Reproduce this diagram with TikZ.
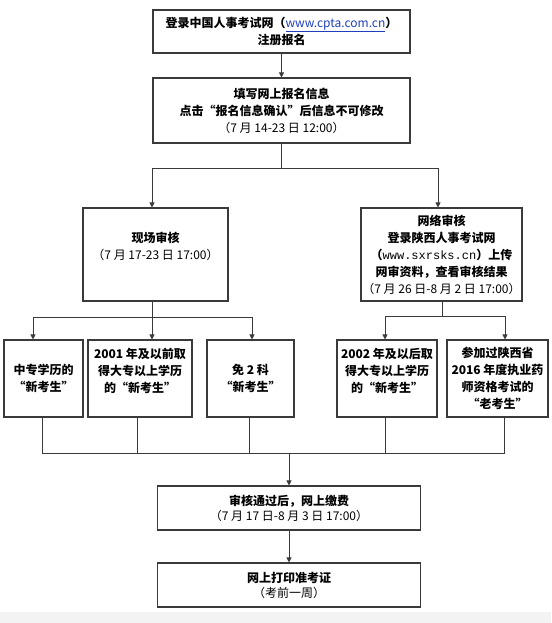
\documentclass[tikz,border=0pt]{standalone}
\usepackage{fontspec}
\setmainfont{Noto Sans CJK SC}
\setmonofont{Liberation Mono}
\usetikzlibrary{arrows.meta}
\definecolor{lineC}{HTML}{3A3A3A}
\definecolor{urlC}{HTML}{1F3FBF}
\definecolor{bandC}{HTML}{F3F3F3}
\tikzset{
  box/.style={draw=lineC, line width=1.1pt, rectangle, inner sep=0pt, align=center,
    font=\fontsize{12}{17}\selectfont\bfseries},
  boxtight/.style={box, font=\fontsize{12}{15}\selectfont\bfseries},
  conn/.style={draw=lineC, line width=0.8pt},
  arr/.style={conn, -{Triangle[length=5pt,width=5pt]}},
}
\begin{document}
\begin{tikzpicture}[x=1pt,y=-1pt]
\useasboundingbox (0,0) rectangle (551,623);
\fill[bandC] (0,612) rectangle (551,623);

% nodes
\node[box, minimum width=257pt, minimum height=43pt] (b1) at (281.5,31.5)
  {登录中国人事考试网（{\mdseries\textcolor{urlC}{\underline{www.cpta.com.cn}}}）\\注册报名};
\node[box, minimum width=257pt, minimum height=65pt] (b2) at (281.5,110.5)
  {填写网上报名信息\\点击“报名信息确认”后信息不可修改\\{\mdseries（7 月 14-23 日 12:00）}};
\node[box, minimum width=145pt, minimum height=93pt] (b3) at (155.5,254.5)
  {现场审核\\{\mdseries（7 月 17-23 日 17:00）}\\ \mbox{}};
\node[box, minimum width=161pt, minimum height=93pt] (b4) at (441.5,254.5)
  {网络审核\\登录陕西人事考试网\\（{\mdseries\ttfamily www.sxrsks.cn}）上传\\网审资料，查看审核结果\\{\mdseries（7 月 26 日-8 月 2 日 17:00）}};
\node[box, minimum width=79pt, minimum height=77pt] (b5) at (43.5,378.5)
  {中专学历的\\“新考生”};
\node[box, minimum width=104pt, minimum height=77pt] (b6) at (140,378.5)
  {2001 年及以前取\\得大专以上学历\\的“新考生”\\ \mbox{}};
\node[box, minimum width=87pt, minimum height=77pt] (b7) at (250.5,378.5)
  {免 2 科\\“新考生”};
\node[box, minimum width=100pt, minimum height=77pt] (b8) at (387,378.5)
  {2002 年及以后取\\得大专以上学历\\的“新考生”\\ \mbox{}};
\node[box, minimum width=101pt, minimum height=77pt] (b9) at (497.5,378.5)
  {参加过陕西省\\2016 年度执业药\\师资格考试的\\“老考生”};
\node[boxtight, minimum width=263pt, minimum height=44pt] (b10) at (289,508)
  {审核通过后，网上缴费\\{\mdseries（7 月 17 日-8 月 3 日 17:00）}};
\node[boxtight, minimum width=263pt, minimum height=44pt] (b11) at (289,585)
  {网上打印准考证\\{\mdseries（考前一周）}};

% junction coordinates
\coordinate (s1) at (281.5,168);
\coordinate (l3) at (152,168);
\coordinate (r4) at (438,168);
\coordinate (s3) at (152,317);
\coordinate (j5) at (33,317);
\coordinate (j7) at (252,317);
\coordinate (s4) at (442,316);
\coordinate (j8) at (385,316);
\coordinate (j9) at (505,316);
\coordinate (k5) at (42,453);
\coordinate (k6) at (137,453);
\coordinate (k7) at (249,453);
\coordinate (k8) at (385,453);
\coordinate (k9) at (504,453);
\coordinate (k0) at (289,453);

% connectors
\draw[arr] (b1.south) -- (b2.north);
\draw[conn] (b2.south) -- (s1);
\draw[arr] (s1) -- (l3) -- (l3 |- b3.north);
\draw[arr] (s1) -- (r4) -- (r4 |- b4.north);

\draw[conn] (b3.south -| s3) -- (s3);
\draw[arr] (s3) -- (j5) -- (j5 |- b5.north);
\draw[arr] (s3) -- (s3 |- b6.north);
\draw[arr] (s3) -- (j7) -- (j7 |- b7.north);

\draw[conn] (b4.south -| s4) -- (s4);
\draw[arr] (s4) -- (j8) -- (j8 |- b8.north);
\draw[arr] (s4) -- (j9) -- (j9 |- b9.north);

\draw[conn] (b5.south -| k5) -- (k5) -- (k9) -- (b9.south -| k9);
\draw[conn] (b6.south -| k6) -- (k6);
\draw[conn] (b7.south -| k7) -- (k7);
\draw[conn] (b8.south -| k8) -- (k8);
\draw[arr] (k0) -- (k0 |- b10.north);
\draw[arr] (b10.south) -- (b11.north);
\end{tikzpicture}
\end{document}
